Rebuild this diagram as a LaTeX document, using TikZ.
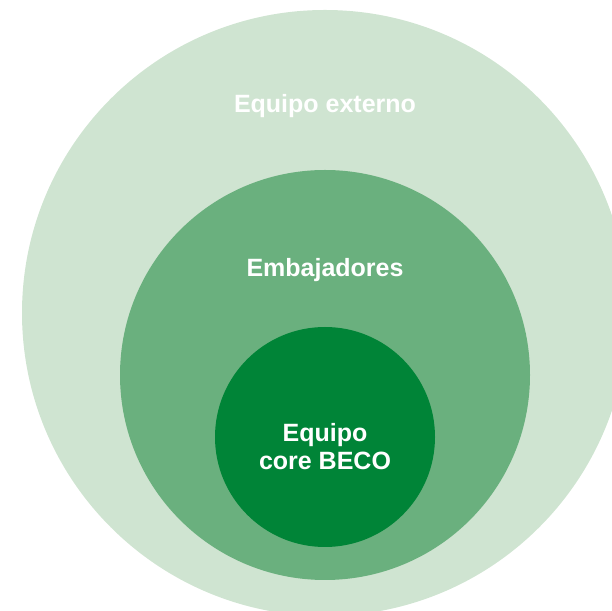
\documentclass[tikz,border=0pt]{standalone}
\usepackage{fontspec}
\setmainfont{Liberation Sans}
\usepackage{tikz}

\definecolor{ringout}{HTML}{CFE4D1}
\definecolor{ringmid}{HTML}{6AB07E}
\definecolor{ringin}{HTML}{008437}

\begin{document}
\begin{tikzpicture}[x=1bp,y=1bp,
    label/.style={text=white,font=\fontsize{25bp}{28.3bp}\selectfont\bfseries,
      inner sep=0pt,align=center,anchor=base}]
  \useasboundingbox (0,0) rectangle (612,611);
  \clip (0,0) rectangle (612,611);

  % --- outer ring: external team ---
  \fill[ringout] (325,298) circle (303);
  % --- middle ring: ambassadors ---
  \fill[ringmid] (325,236) circle (205);
  % --- core ---
  \fill[ringin] (325,174) circle (110);

  % --- labels ---
  \node[label] (externo) at (325,498.5) {Equipo externo};
  \node[label] (emb) at (325,334.3) {Embajadores};
  \node[label] (core) at (325,141) {Equipo\\core BECO};
\end{tikzpicture}
\end{document}
